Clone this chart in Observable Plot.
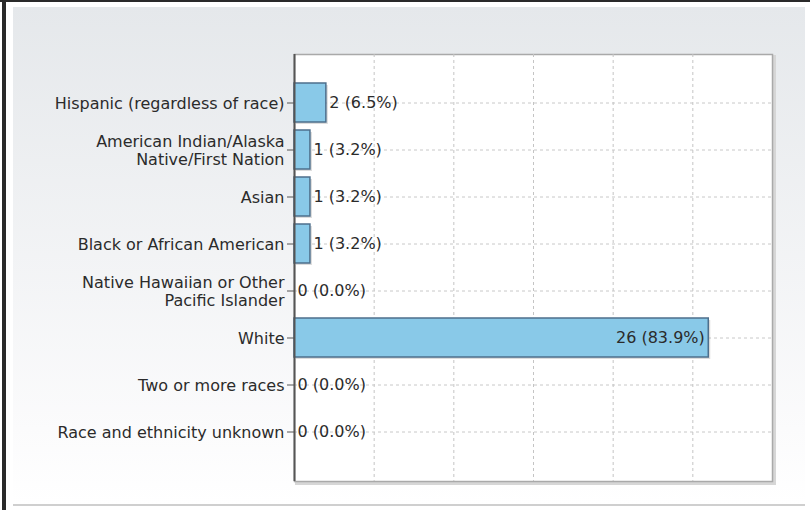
<!DOCTYPE html>
<html>
<head>
<meta charset="utf-8">
<script src="https://cdn.jsdelivr.net/npm/d3@7"></script>
<script src="https://cdn.jsdelivr.net/npm/@observablehq/plot@0.6"></script>
<style>
  html, body { margin: 0; padding: 0; background: #ffffff; }
  #wrap { position: relative; width: 810px; height: 510px; overflow: hidden; background: #fff; }
  #topline { position: absolute; left: 0; top: 0; width: 810px; height: 2px; background: #2a2a2a; }
  #leftline { position: absolute; left: 2px; top: 0; width: 4px; height: 510px; background: #2a2a2a; }
  #panel { position: absolute; left: 13px; top: 7px; width: 792px; height: 497px;
           background: linear-gradient(#e5e8eb, #fbfbfc 85%, #ffffff);
           border-bottom: 2px solid #cfcfcf; }
  #chart { position: absolute; left: 0; top: 0; }
  #chart svg { overflow: visible; }
</style>
</head>
<body>
<div id="wrap">
  <div id="topline"></div>
  <div id="leftline"></div>
  <div id="panel"></div>
  <div id="chart"></div>
</div>
<script>
const categories = [
  "Hispanic (regardless of race)",
  "American Indian/Alaska\nNative/First Nation",
  "Asian",
  "Black or African American",
  "Native Hawaiian or Other\nPacific Islander",
  "White",
  "Two or more races",
  "Race and ethnicity unknown"
];
const counts = [2, 1, 1, 1, 0, 26, 0, 0];
const percents = ["6.5", "3.2", "3.2", "3.2", "0.0", "83.9", "0.0", "0.0"];
const xTicks = [0, 5, 10, 15, 20, 25, 30];

const data = categories.map((c, i) => ({
  category: c,
  count: counts[i],
  label: `${counts[i]} (${percents[i]}%)`
}));
const maxCount = d3.max(counts);

const font = "'DejaVu Sans', sans-serif";
const fs = 16;

const plot = Plot.plot({
  width: 810,
  height: 510,
  marginLeft: 294,
  marginRight: 38,
  marginTop: 54,
  marginBottom: 29,
  style: { background: "transparent", fontFamily: font, fontSize: fs + "px", color: "#2b2b2b" },
  x: { domain: [0, 30], axis: null },
  y: { domain: categories, paddingInner: 0.16, paddingOuter: 0.58, axis: null },
  marks: [
    // shadow of plot frame
    Plot.frame({ stroke: "#d6d6d6", strokeWidth: 3, dx: 2, dy: 2 }),
    Plot.frame({ fill: "#ffffff", stroke: "#a9a9a9", strokeWidth: 1.5 }),
    Plot.gridX({ ticks: xTicks.slice(1, -1), stroke: "#c4c4c4", strokeOpacity: 1, strokeDasharray: "3,3" }),
    Plot.gridY({ stroke: "#c8c8c8", strokeOpacity: 1, strokeDasharray: "3,3" }),
    // bar shadows
    Plot.barX(data, { x: "count", y: "category", fill: "#9a9a9a", fillOpacity: 0.35, dx: 2, dy: 2 }),
    Plot.barX(data, { x: "count", y: "category", fill: "#89c9e8", stroke: "#4d6f8c", strokeWidth: 1.5 }),
    Plot.text(data.filter(d => d.count < maxCount), {
      x: "count", y: "category", text: "label", textAnchor: "start", dx: 3,
      fill: "#2b2b2b", fontSize: fs, fontFamily: font
    }),
    Plot.text(data.filter(d => d.count === maxCount), {
      x: "count", y: "category", text: "label", textAnchor: "end", dx: -4,
      fill: "#2b2b2b", fontSize: fs, fontFamily: font
    }),
    Plot.axisY({
      tickSize: 7, tickPadding: 3, label: null, stroke: "#555",
      fill: "#2b2b2b", fontSize: fs, fontFamily: font, lineHeight: 1.17
    }),
    Plot.ruleX([0], { stroke: "#555", strokeWidth: 2 })
  ]
});
document.getElementById("chart").appendChild(plot);
</script>
</body>
</html>
